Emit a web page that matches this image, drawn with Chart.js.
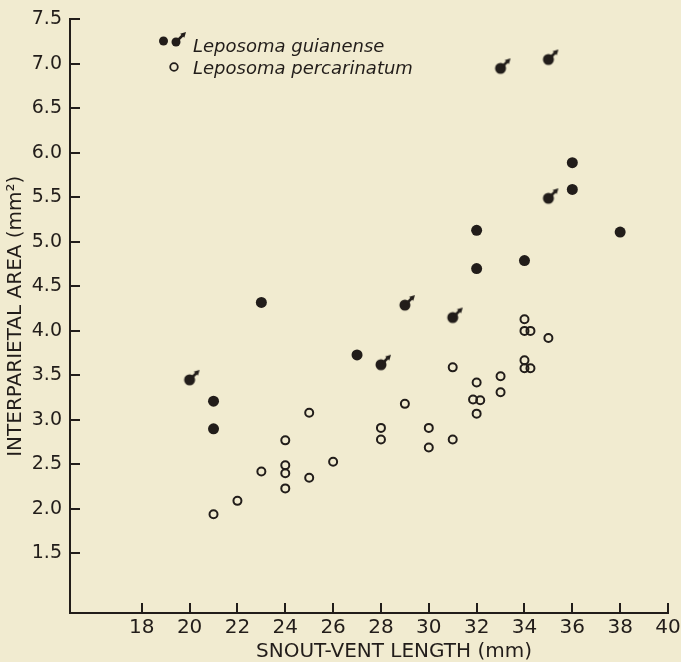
<!DOCTYPE html>
<html>
<head>
<meta charset="utf-8">
<title>Interparietal area vs snout-vent length</title>
<script src="https://cdn.jsdelivr.net/npm/chart.js@4"></script>
<style>
  html, body { margin: 0; padding: 0; background: #f1ebd0; }
  #wrap { width: 681px; height: 662px; }
</style>
</head>
<body>
<div id="wrap"><canvas id="chart" width="681" height="662"></canvas></div>
<script>
// Leposoma guianense (filled), male flag marks the ones drawn with the arrow
const guianenseX = [20, 21, 21, 23, 27, 28, 29, 31, 32, 32, 33, 34, 35, 35, 36, 36, 38];
const guianenseY = [3.45, 3.21, 2.90, 4.32, 3.73, 3.62, 4.29, 4.15, 5.13, 4.70, 6.95, 4.79, 7.05, 5.49, 5.89, 5.59, 5.11];
const guianenseMale = [1, 0, 0, 0, 0, 1, 1, 1, 0, 0, 1, 0, 1, 1, 0, 0, 0];

// Leposoma percarinatum (open)
const percarinatumX = [21, 22, 23, 24, 24, 24, 24, 25, 25, 26, 28, 28, 29, 30, 30, 31, 31,
  32, 31.85, 32.15, 32, 33, 33, 34, 34, 34.25, 34, 34, 34.25, 35];
const percarinatumY = [1.94, 2.09, 2.42, 2.77, 2.49, 2.40, 2.23, 3.08, 2.35, 2.53, 2.91, 2.78, 3.18, 2.91, 2.69, 3.59, 2.78,
  3.42, 3.23, 3.22, 3.07, 3.49, 3.31, 4.13, 4.00, 4.00, 3.67, 3.58, 3.58, 3.92];

const xTicks = [18, 20, 22, 24, 26, 28, 30, 32, 34, 36, 38, 40];
const yTicks = [1.5, 2.0, 2.5, 3.0, 3.5, 4.0, 4.5, 5.0, 5.5, 6.0, 6.5, 7.0, 7.5];

const ink = '#221d1a';
const paper = '#f1ebd0';
const font = '"DejaVu Sans", sans-serif';

// filled circle with the male arrow, used as a point style
function makeMaleIcon(r) {
  const c = document.createElement('canvas');
  c.width = 32; c.height = 32;
  const g = c.getContext('2d');
  const cx = 16, cy = 16;
  g.fillStyle = ink;
  g.strokeStyle = ink;
  g.beginPath();
  g.arc(cx, cy, r, 0, Math.PI * 2);
  g.fill();
  g.lineWidth = 2.5;
  g.beginPath();
  g.moveTo(cx + 2, cy - 2);
  g.lineTo(cx + 6.5, cy - 6.5);
  g.stroke();
  g.beginPath();
  g.moveTo(cx + 10, cy - 10);
  g.lineTo(cx + 8.3, cy - 4.2);
  g.lineTo(cx + 4.2, cy - 8.3);
  g.closePath();
  g.fill();
  return c;
}
const maleIcon = makeMaleIcon(5.5);
const maleIconSmall = makeMaleIcon(4.5);

const toPoints = (xs, ys) => xs.map((x, i) => ({ x: x, y: ys[i] }));

const paperPlugin = {
  id: 'paper',
  beforeDraw(chart) {
    const ctx = chart.ctx;
    ctx.save();
    ctx.fillStyle = paper;
    ctx.fillRect(0, 0, chart.width, chart.height);
    ctx.restore();
  }
};

// tick marks pointing into the plot, at the scales' own tick positions
const innerTicksPlugin = {
  id: 'innerTicks',
  afterDraw(chart) {
    const ctx = chart.ctx;
    const a = chart.chartArea;
    const xs = chart.scales.x, ys = chart.scales.y;
    ctx.save();
    ctx.strokeStyle = ink;
    ctx.lineWidth = 2;
    ctx.beginPath();
    xTicks.forEach(v => {
      const px = Math.round(xs.getPixelForValue(v));
      ctx.moveTo(px, a.bottom);
      ctx.lineTo(px, a.bottom - 10);
    });
    yTicks.forEach(v => {
      const py = Math.round(ys.getPixelForValue(v));
      ctx.moveTo(a.left, py);
      ctx.lineTo(a.left + 10, py);
    });
    ctx.stroke();
    ctx.restore();
  }
};

// legend box in the upper left of the plot and the x-axis title
const notesPlugin = {
  id: 'notes',
  afterDraw(chart) {
    const ctx = chart.ctx;
    ctx.save();
    ctx.fillStyle = ink;
    ctx.strokeStyle = ink;
    ctx.beginPath();
    ctx.arc(163.5, 41, 4.5, 0, Math.PI * 2);
    ctx.fill();
    ctx.drawImage(maleIconSmall, 176 - 16, 42 - 16);
    ctx.lineWidth = 1.8;
    ctx.beginPath();
    ctx.arc(174, 67, 3.8, 0, Math.PI * 2);
    ctx.stroke();

    ctx.font = 'italic 18px ' + font;
    ctx.textAlign = 'left';
    ctx.textBaseline = 'alphabetic';
    ctx.fillText('Leposoma guianense', 193, 52);
    ctx.fillText('Leposoma percarinatum', 193, 74);

    ctx.font = '20px ' + font;
    ctx.textAlign = 'center';
    ctx.textBaseline = 'middle';
    const a = chart.chartArea;
    ctx.fillText('SNOUT-VENT LENGTH (mm)', (a.left + a.right) / 2 + 25, 652);
    ctx.restore();
  }
};

new Chart(document.getElementById('chart'), {
  type: 'scatter',
  data: {
    datasets: [
      {
        label: 'Leposoma guianense',
        data: toPoints(guianenseX, guianenseY),
        pointStyle: ctx => guianenseMale[ctx.dataIndex] ? maleIcon : 'circle',
        pointRadius: 5.5,
        pointBorderWidth: 0,
        pointBackgroundColor: ink,
        pointBorderColor: ink
      },
      {
        label: 'Leposoma percarinatum',
        data: toPoints(percarinatumX, percarinatumY),
        pointStyle: 'circle',
        pointRadius: 4,
        pointBorderWidth: 2,
        pointBackgroundColor: 'rgba(0,0,0,0)',
        pointBorderColor: ink
      }
    ]
  },
  options: {
    responsive: false,
    animation: false,
    events: [],
    layout: { padding: { top: 7.5, right: 0, left: 0, bottom: 0 } },
    plugins: {
      legend: { display: false },
      tooltip: { enabled: false }
    },
    scales: {
      x: {
        type: 'linear',
        min: 15,
        max: 40,
        afterBuildTicks: s => { s.ticks = xTicks.map(v => ({ value: v })); },
        afterFit: s => { s.height = 49; s.paddingRight = 13; s.paddingLeft = 0; },
        grid: { display: true, drawOnChartArea: false, drawTicks: false },
        border: { display: true, width: 2, color: ink },
        ticks: { color: ink, font: { family: font, size: 20 }, padding: 3, maxRotation: 0 }
      },
      y: {
        type: 'linear',
        min: 0.83,
        max: 7.5,
        afterBuildTicks: s => { s.ticks = yTicks.map(v => ({ value: v })); },
        afterFit: s => { s.width = 70; },
        grid: { display: true, drawOnChartArea: false, drawTicks: false },
        border: { display: true, width: 2, color: ink },
        ticks: {
          color: ink,
          font: { family: font, size: 19 },
          padding: 8,
          callback: v => Number(v).toFixed(1)
        },
        title: {
          display: true,
          text: 'INTERPARIETAL AREA (mm²)',
          color: ink,
          font: { family: font, size: 20 },
          padding: { top: 4, bottom: 0 }
        }
      }
    }
  },
  plugins: [paperPlugin, innerTicksPlugin, notesPlugin]
});
</script>
</body>
</html>
